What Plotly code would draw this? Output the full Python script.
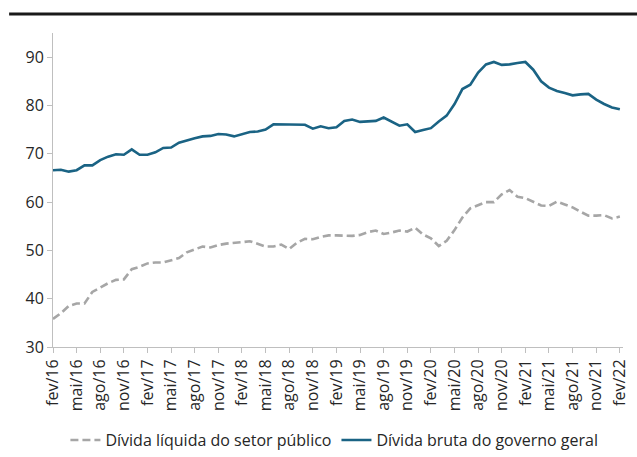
import plotly.graph_objects as go

months = ["jan","fev","mar","abr","mai","jun","jul","ago","set","out","nov","dez"]
# monthly categories fev/16 .. fev/22
categories = []
for k in range(73):
    m = (1 + k) % 12
    y = 16 + (1 + k) // 12
    categories.append(f"{months[m]}/{y:02d}")

divida_bruta = [
    66.6, 66.7, 66.3, 66.6, 67.6, 67.6, 68.7, 69.4, 69.9, 69.8,
    70.9, 69.8, 69.8, 70.3, 71.2, 71.3, 72.3, 72.8, 73.2, 73.6,
    73.7, 74.1, 74.0, 73.6, 74.1, 74.5, 74.6, 75.0, 76.1, 76.1,
    76.0, 76.0, 76.0, 75.2, 75.7, 75.3, 75.5, 76.8, 77.1, 76.6,
    76.7, 76.8, 77.5, 76.7, 75.8, 76.1, 74.5, 74.9, 75.3, 76.7,
    77.9, 80.3, 83.4, 84.3, 86.8, 88.5, 89.0, 88.4, 88.5, 88.8,
    89.0, 87.4, 85.0, 83.7, 83.0, 82.6, 82.1, 82.3, 82.4, 81.2,
    80.3, 79.6, 79.2,
]

divida_liquida = [
    35.8, 37.0, 38.5, 39.0, 39.0, 41.4, 42.3, 43.2, 43.9, 44.0,
    46.1, 46.6, 47.3, 47.5, 47.5, 47.9, 48.4, 49.6, 50.2, 50.8,
    50.6, 51.1, 51.4, 51.5, 51.7, 51.9, 51.3, 50.8, 50.8, 51.2,
    50.3, 51.6, 52.4, 52.3, 52.8, 53.1, 53.1, 53.0, 53.0, 53.2,
    53.8, 54.1, 53.4, 53.7, 54.1, 53.9, 54.7, 53.3, 52.5, 50.9,
    52.0, 54.2, 56.8, 58.7, 59.4, 60.0, 60.0, 61.6, 62.5, 61.1,
    60.8, 60.1, 59.3, 59.2, 60.1, 59.5, 58.9, 58.0, 57.2, 57.2,
    57.3, 56.6, 57.0,
]

tick_labels = categories[::3]
y_ticks = [30, 40, 50, 60, 70, 80, 90]

idx = list(range(len(categories)))

FONT = "Open Sans"
TXT = "#262626"
AXIS = "#bfbfbf"

fig = go.Figure()
fig.add_trace(go.Scatter(
    x=idx, y=divida_liquida, mode="lines",
    name="Dívida líquida do setor público",
    line=dict(color="#a6a6a6", width=2.6, dash="8px,4px"),
))
fig.add_trace(go.Scatter(
    x=idx, y=divida_bruta, mode="lines",
    name="Dívida bruta do governo geral",
    line=dict(color="#1a6384", width=2.6),
))

fig.update_layout(
    width=637, height=457,
    margin=dict(l=53, r=14, t=33, b=110, autoexpand=False),
    paper_bgcolor="white", plot_bgcolor="white",
    font=dict(family=FONT, color=TXT, size=15),
    showlegend=True,
    legend=dict(orientation="h", xref="container", yref="container",
                x=0.525, xanchor="center", y=0.037, yanchor="middle",
                font=dict(size=16, color=TXT), itemwidth=30, tracegroupgap=0,
                bgcolor="rgba(0,0,0,0)"),
    xaxis=dict(
        range=[0, len(categories) - 1 + 0.4],
        tickmode="array", tickvals=idx[::3], ticktext=tick_labels,
        tickangle=-90, tickfont=dict(size=16, color=TXT),
        showgrid=False, zeroline=False, automargin=False,
        showline=True, linecolor=AXIS, linewidth=1,
        ticks="outside", ticklen=5, tickcolor=AXIS,
    ),
    yaxis=dict(
        range=[30, 95],
        tickmode="array", tickvals=y_ticks,
        tickfont=dict(size=16, color=TXT),
        showgrid=False, zeroline=False, automargin=False,
        showline=True, linecolor=AXIS, linewidth=1,
        ticks="outside", ticklen=5, tickcolor=AXIS,
    ),
    shapes=[dict(type="line", xref="paper", yref="paper",
                 x0=-0.077, x1=1.03, y0=1.0605, y1=1.0605,
                 line=dict(color="#1a1a1a", width=3))],
    annotations=[dict(text="(em % do PIB, mensal)", xref="paper", yref="paper",
                      x=-0.075, y=1.093, xanchor="left", yanchor="bottom",
                      showarrow=False, font=dict(size=16, color=TXT))],
)

fig.write_html("out.html", config={"displayModeBar": False},
               post_script="document.body.style.margin='0';document.body.style.padding='0';")
